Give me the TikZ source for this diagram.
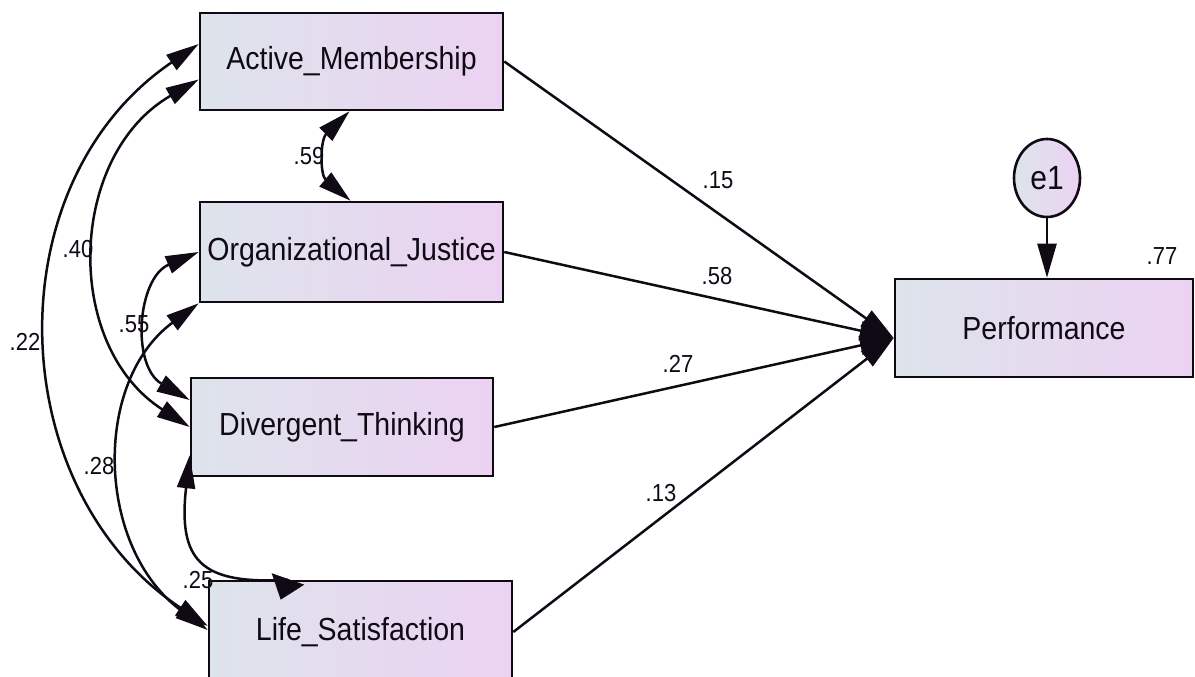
\documentclass[tikz,border=0pt]{standalone}
\usepackage{fontspec}
\usepackage{graphicx}
\setmainfont{Liberation Sans}
\usetikzlibrary{arrows.meta,calc,shapes.geometric}

\definecolor{boxL}{RGB}{221,228,235}
\definecolor{boxR}{RGB}{236,210,242}
\definecolor{ink}{RGB}{16,10,20}

% slightly taller glyphs, as in the model output of the SEM program
\newcommand{\vstretch}[1]{\scalebox{1}[1.12]{#1}}

\begin{document}
\begin{tikzpicture}[x=1pt,y=-1pt,
  varbox/.style={draw=ink, line width=2.6pt, left color=boxL, right color=boxR,
    rectangle, inner sep=0pt, text=ink, font=\fontsize{28.5}{30}\selectfont},
  errvar/.style={draw=ink, line width=2.6pt, left color=boxL, right color=boxR,
    ellipse, inner sep=0pt, minimum width=66pt, minimum height=78pt, text=ink,
    font=\fontsize{30}{32}\selectfont},
  coef/.style={inner sep=0pt, text=ink, font=\fontsize{22}{24}\selectfont},
  regpath/.style={draw=ink, line width=2.5pt, -{Triangle[length=34pt,width=19pt]}},
  covpath/.style={draw=ink, line width=2.5pt,
    {Triangle[length=33pt,width=18pt]}-{Triangle[length=33pt,width=18pt]}},
]
\clip (0,0) rectangle (1195,677);
\fill[white] (0,0) rectangle (1195,677);

% observed variables
\node[varbox, minimum width=303pt, minimum height=97pt]  (AM) at (351.5,61.5) {\vstretch{Active\_Membership}};
\node[varbox, minimum width=303pt, minimum height=100pt] (OJ) at (351.5,252)  {\vstretch{Organizational\_Justice}};
\node[varbox, minimum width=302pt, minimum height=98pt]  (DT) at (342,427)    {\vstretch{Divergent\_Thinking}};
\node[varbox, minimum width=303pt, minimum height=102pt] (LS) at (360.5,632)  {\vstretch{Life\_Satisfaction}};
\node[varbox, minimum width=298pt, minimum height=98pt]  (PF) at (1044,328)   {\vstretch{Performance}};

% error term
\node[errvar] (e1) at (1047,178) {\vstretch{e1}};

% regression paths into Performance
\coordinate (pin) at ($(PF.west)+(0,10)$);
\draw[regpath] (AM.east) -- (pin);
\draw[regpath] (OJ.east) -- (pin);
\draw[regpath] (DT.east) -- (pin);
\draw[regpath] (LS.east) -- (pin);
\draw[regpath] (e1.south) -- (e1.south |- PF.north);

% covariances between the predictors
\draw[covpath] ($(AM.south)+(-2,0)$) .. controls (320,140) and (320,175) .. ($(OJ.north)+(-1,0)$);
\draw[covpath] ($(AM.west)+(0,18)$) .. controls (68,155) and (62,345) .. (DT.west);
\draw[covpath] ($(AM.west)+(0,-17.5)$) .. controls (-6,183) and (1,488) .. ($(LS.west)+(0,-6)$);
\draw[covpath] (OJ.west) .. controls (137,278) and (131,366) .. ($(DT.west)+(0,-27)$);
\draw[covpath] (OJ.south west) .. controls (92,382) and (96,548) .. ($(LS.west)+(0,-2)$);
\draw[draw=ink, line width=2.5pt, {Triangle[length=33pt,width=18pt]}-{Triangle[length=22pt,width=34pt]}]
  ($(DT.south west)+(0,-22)$) .. controls (178,560) and (200,585) .. ($(LS.north west)+(80,0)$)
  -- ($(LS.north west)+(73,20)$);

% coefficients
\node[coef] (c15) at (718,180) {\vstretch{.15}};
\node[coef] (c58) at (717,276) {\vstretch{.58}};
\node[coef] (c27) at (678,364) {\vstretch{.27}};
\node[coef] (c13) at (661,493) {\vstretch{.13}};
\node[coef] (c77) at (1162,256) {\vstretch{.77}};
\node[coef] (c59) at (309,156) {\vstretch{.59}};
\node[coef] (c40) at (78,249)  {\vstretch{.40}};
\node[coef] (c55) at (134,324) {\vstretch{.55}};
\node[coef] (c22) at (25,342)  {\vstretch{.22}};
\node[coef] (c28) at (99,466)  {\vstretch{.28}};
\node[coef] (c25) at (198,580) {\vstretch{.25}};
\end{tikzpicture}
\end{document}
